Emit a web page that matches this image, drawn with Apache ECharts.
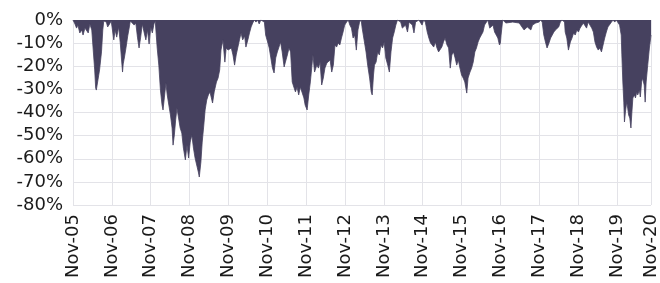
<!DOCTYPE html>
<html>
<head>
<meta charset="utf-8">
<script src="https://cdn.jsdelivr.net/npm/echarts@6/dist/echarts.min.js"></script>
<style>
html,body{margin:0;padding:0;background:#fff;}
#chart{width:660px;height:283px;}
</style>
</head>
<body>
<div id="chart"></div>
<script>
// x tick labels (one per November)
const xTickLabels = ['Nov-05','Nov-06','Nov-07','Nov-08','Nov-09','Nov-10','Nov-11','Nov-12','Nov-13','Nov-14','Nov-15','Nov-16','Nov-17','Nov-18','Nov-19','Nov-20'];
// months elapsed since Nov-2005
const months = [
0,0.6,1.1,1.5,2.1,2.7,3.1,3.7,4.2,4.7,5.2,5.5,
5.8,6.2,6.7,7.0,7.2,7.5,7.9,8.2,8.8,9.2,9.5,9.8,
10.3,10.7,11.3,11.8,12.2,
12.6,13.0,13.5,14.1,14.6,15.0,15.3,15.5,15.9,16.4,16.9,17.4,17.7,
18.3,18.9,19.4,19.9,20.4,20.9,21.4,22.0,22.5,23.0,23.5,24.0,24.5,25.0,25.4,
25.6,26.0,26.5,27.0,27.5,27.8,28.2,28.7,29.1,29.6,30.1,30.6,30.9,31.3,31.7,32.1,32.6,33.1,33.6,34.1,34.7,35.2,35.7,36.2,36.7,37.2,37.7,38.2,38.7,39.0,39.5,39.9,40.4,40.8,41.3,41.8,42.3,42.7,43.1,43.6,44.3,44.8,45.3,45.7,46.3,46.9,47.3,47.9,48.4,48.9,49.4,49.9,50.4,50.9,51.4,51.9,52.4,53.0,53.4,54.0,54.5,55.0,55.5,56.0,
56.5,57.0,57.5,58.0,58.5,59.1,59.5,60.1,60.6,61.1,61.6,62.1,62.6,63.1,63.6,64.1,64.6,65.2,65.6,66.2,66.7,67.2,67.7,68.2,68.7,69.2,69.7,70.2,70.7,71.3,71.7,72.3,72.8,73.3,73.8,74.1,74.6,75.3,75.8,76.3,76.8,77.3,77.8,78.4,78.9,79.4,79.9,80.4,80.9,81.4,81.9,82.4,82.9,83.4,83.9,84.5,85.0,85.5,86.0,86.5,87.0,87.5,88.0,88.5,89.0,
89.3,90.0,90.5,91.0,91.6,92.1,92.4,92.8,93.1,93.6,94.1,94.6,95.1,95.6,96.1,96.6,97.2,97.7,98.2,98.7,99.2,99.7,100.2,
101.2,101.7,102.7,103.3,103.8,104.8,105.3,105.8,106.8,107.8,108.3,108.8,
109.4,109.9,110.4,110.9,111.4,111.9,112.4,112.9,113.4,113.9,114.4,114.9,115.5,116.0,116.5,117.0,117.5,118.0,118.5,119.0,119.5,120.0,120.5,121.0,121.6,122.0,122.6,123.1,123.6,124.1,124.6,125.1,125.6,126.1,126.6,127.1,127.7,128.1,
128.7,129.2,129.7,130.2,130.7,131.2,131.7,132.0,132.2,132.7,
133.7,135.8,137.8,139.3,140.3,141.4,141.9,142.9,143.9,144.4,
144.9,145.4,145.9,146.4,147.0,147.5,148.0,148.5,149.0,150.0,150.5,151.0,
151.8,152.0,152.5,153.0,153.6,154.1,154.6,155.1,155.6,156.1,156.6,157.1,157.6,158.1,158.6,159.1,159.7,160.2,160.7,161.2,161.7,162.2,162.7,163.2,163.7,164.2,164.7,165.2,165.8,166.3,166.8,167.3,167.8,
168.3,168.8,169.3,169.5,169.8,170.1,170.3,170.6,171.0,171.3,171.6,171.95,172.3,172.6,172.9,173.4,173.7,174.1,174.4,174.9,175.2,175.6,175.9,176.4,176.7,177.0,177.4,178.0,178.5
];
// drawdown in percent
const drawdown = [
0,-1.7,-3.5,-2.2,-5.6,-4.3,-6.5,-3.5,-3.0,-5.6,-1.7,-0.9,
-4.3,-12.1,-21.6,-29.4,-30.3,-27.7,-24.2,-21.6,-13.8,-4.3,-0.4,0,
-0.9,-3.0,-1.7,-0.4,0,
-8.6,-4.3,-7.4,-3.0,-9.9,-17.3,-22.5,-19.0,-16.0,-11.7,-6.9,-3.0,-0.4,
-0.9,-2.2,-1.3,-7.4,-12.1,-7.4,-1.7,-5.6,-8.6,-4.3,-10.4,-3.0,-5.6,-1.7,-0.4,
-4.3,-12.1,-19.5,-30.3,-36.8,-38.9,-33.7,-27.2,-32.4,-36.8,-41.1,-46.7,-54.1,-49.7,-43.2,-38.1,-42.4,-46.7,-48.9,-55.4,-60.5,-54.1,-59.7,-52.8,-49.7,-55.4,-59.7,-62.7,-65.7,-67.9,-61.4,-52.8,-45.4,-38.9,-34.6,-32.4,-31.1,-30.3,-35.9,-31.1,-26.8,-25.1,-21.6,-13.0,-8.6,-18.2,-12.1,-13.0,-13.8,-12.1,-15.1,-19.5,-15.1,-14.3,-8.6,-5.6,-8.6,-6.9,-11.7,-8.6,-5.6,-3.0,-1.3,0,
-0.9,0,-1.7,0,-0.4,-0.9,-6.5,-9.5,-12.1,-16.4,-20.8,-22.9,-16.4,-13.8,-11.7,-9.5,-13.8,-20.3,-18.2,-15.1,-12.1,-13.8,-26.8,-29.0,-31.1,-29.0,-32.4,-29.0,-29.4,-33.7,-36.8,-38.9,-32.4,-26.8,-19.5,-15.1,-22.5,-19.5,-20.8,-18.2,-28.1,-25.1,-20.8,-18.6,-18.2,-17.3,-22.5,-19.5,-10.8,-11.7,-9.9,-10.8,-7.8,-5.2,-2.2,-0.9,0,-2.2,-3.5,-7.8,-6.5,-13.0,-4.3,-0.9,0,
-3.5,-9.5,-13.8,-19.5,-25.1,-31.1,-32.4,-23.8,-19.5,-18.2,-13.8,-15.1,-10.8,-12.1,-9.5,-16.4,-19.5,-22.5,-13.8,-7.8,-5.2,-2.2,0,
-0.9,-3.5,-2.2,-5.2,-0.9,-2.2,-5.6,-0.9,0,-2.2,0,-0.9,
-5.2,-7.8,-9.9,-10.8,-11.7,-9.5,-12.1,-13.8,-14.3,-11.7,-9.5,-7.8,-10.8,-12.1,-20.8,-15.1,-13.8,-16.4,-19.5,-17.3,-20.8,-23.8,-25.1,-26.8,-31.6,-25.1,-22.5,-20.8,-18.2,-13.8,-12.1,-9.5,-7.8,-6.5,-5.2,-2.2,-0.9,0,
-3.5,-4.3,-2.2,-5.2,-6.5,-7.8,-10.8,-9.9,-6.5,0,
-1.3,-0.9,-1.3,-4.3,-3.0,-4.3,-2.2,-1.3,-0.9,0,
-0.9,-6.5,-9.5,-12.1,-9.9,-7.8,-6.5,-5.2,-4.3,-3.0,-0.9,0,
-0.9,-5.2,-7.8,-13.0,-9.5,-7.8,-5.6,-6.5,-4.3,-5.2,-3.5,-3.0,-1.3,-0.9,-3.5,-0.9,-1.3,-3.5,-5.2,-9.5,-11.7,-13.0,-12.1,-13.8,-10.8,-7.8,-5.2,-3.0,-2.2,-0.9,0,-0.9,0,
0,-2.2,-6.5,-15.1,-26.8,-35.5,-44.1,-39.8,-35.5,-38.1,-41.1,-42.4,-46.7,-39.8,-33.7,-32.4,-33.7,-31.1,-32.4,-30.3,-33.3,-26.8,-25.1,-28.1,-35.5,-26.8,-20.8,-12.1,-6.5
];
const xMax = 178.5;

const seriesData = months.map((m, i) => [m, drawdown[i]]);
const chart = echarts.init(document.getElementById('chart'), null, {renderer: 'canvas'});
const fontFamily = 'DejaVu Sans';
chart.setOption({
  animation: false,
  grid: {left: 73, right: 1.5, top: 20, bottom: 78, containLabel: false},
  xAxis: {
    type: 'value', min: 0, max: xMax, interval: 12,
    axisLine: {show: true, lineStyle: {color: '#e3e3e8', width: 1}},
    axisTick: {show: false},
    splitLine: {show: true, lineStyle: {color: '#e3e3e8', width: 1}},
    axisLabel: {
      rotate: 90, margin: 9, fontSize: 18, color: '#1a1a1a', fontFamily: fontFamily,
      showMaxLabel: true, showMinLabel: true,
      formatter: function (v) { return xTickLabels[Math.ceil(v / 12 - 1e-6)] || ''; }
    }
  },
  yAxis: {
    type: 'value', min: -80, max: 0, interval: 10,
    axisLine: {show: false},
    axisTick: {show: false},
    splitLine: {show: true, lineStyle: {color: '#e3e3e8', width: 1}},
    axisLabel: {margin: 10, fontSize: 18, color: '#1a1a1a', fontFamily: fontFamily, formatter: '{value}%'}
  },
  series: [{
    type: 'line', data: seriesData, showSymbol: false, symbol: 'none', smooth: false,
    lineStyle: {color: '#46415f', width: 0.8},
    areaStyle: {color: '#46415f', opacity: 1},
    sampling: null
  }]
});
</script>
</body>
</html>
